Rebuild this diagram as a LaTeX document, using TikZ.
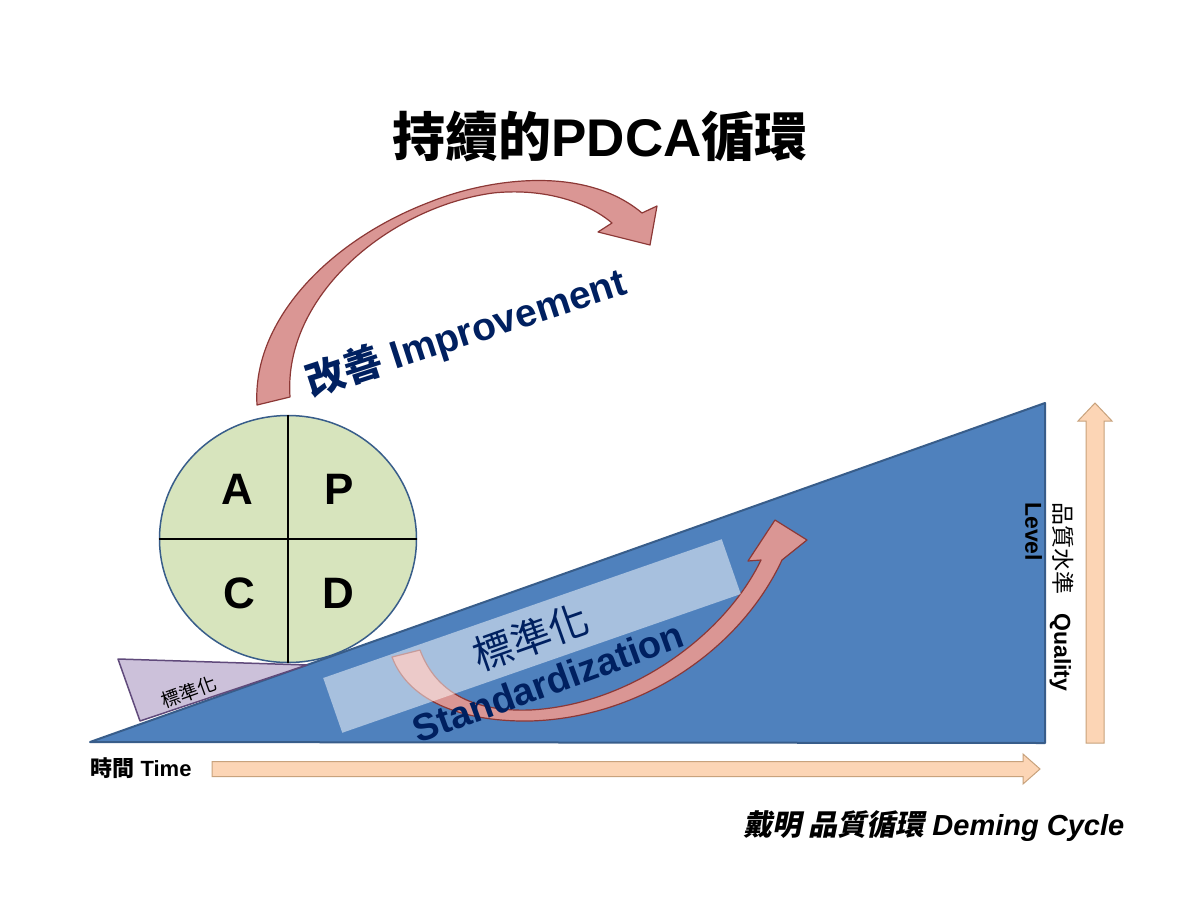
\documentclass[tikz,border=0pt]{standalone}
\usepackage{fontspec}
\setmainfont{Liberation Sans}
\newfontfamily\cjk{Noto Sans CJK TC}
\newfontfamily\cjkit[FakeSlant=0.2]{Noto Sans CJK TC}
\usetikzlibrary{shapes.geometric}
\newcommand{\setfs}[1]{\fontsize{#1}{#1}\selectfont}
\definecolor{triF}{HTML}{4F81BD}
\definecolor{triB}{HTML}{385D8A}
\definecolor{navy}{RGB}{0,32,96}
\definecolor{circF}{HTML}{D7E4BD}
\definecolor{wedF}{HTML}{CCC1DA}
\definecolor{wedB}{HTML}{604A7B}
\definecolor{peachF}{HTML}{FCD5B5}
\definecolor{peachB}{HTML}{C8A27C}
\definecolor{arrF}{HTML}{DA9694}
\definecolor{arrB}{HTML}{8C3836}
\tikzset{
  arrowst/.style={fill=arrF, draw=arrB, line width=1.2pt, line join=round},
  peach/.style={fill=peachF, draw=peachB, line width=1pt},
  letter/.style={font=\setfs{44}\bfseries, inner sep=0pt},
}
\begin{document}
\begin{tikzpicture}[x=1pt,y=-1pt]
\useasboundingbox[fill=white] (0,0) rectangle (1200,900);
% slope
\filldraw[fill=triF, draw=triB, line width=2pt, line join=round] (90,742) -- (1045,403) -- (1045,743) -- cycle;
% small wedge
\filldraw[fill=wedF, draw=wedB, line width=1.5pt, line join=round] (118,659) -- (307,665) -- (140,721) -- cycle;
\node[rotate=20, inner sep=0pt] (wedtxt) at (189,692) {\setfs{19}\cjk 標準化};
% PDCA circle
\node[ellipse, draw=triB, fill=circF, line width=1.5pt, minimum width=257pt, minimum height=247pt, inner sep=0pt] (pdca) at (288,539) {};
\draw[line width=1.5pt] (pdca.north) -- (pdca.south);
\draw[line width=1.5pt] (pdca.west) -- (pdca.east);
\node[letter] (A) at (237,489) {A};
\node[letter] (P) at (339,489) {P};
\node[letter] (C) at (239,593) {C};
\node[letter] (D) at (338,593) {D};
% lower arrow
\filldraw[arrowst] (392,657) .. controls (410,705) and (470,722) .. (530,721) .. controls (640,718) and (740,650) .. (782,560) -- (807,540) -- (775,520) -- (748,561) -- (761,560) .. controls (725,635) and (630,705) .. (530,710) .. controls (470,712) and (435,690) .. (420,650) -- cycle;
% light band
\node[rectangle, fill=white, fill opacity=0.5, minimum width=422pt, minimum height=58pt, rotate=19.2, inner sep=0pt] (band) at (532,636) {};
\node[rotate=19.5, text=navy, inner sep=0pt] (stdcjk) at (531,637) {\setfs{40}\cjk 標準化};
\node[rotate=20, text=navy, inner sep=0pt] (stden) at (548,682) {\setfs{38}\bfseries Standardization};
% upper arrow
\filldraw[arrowst] (257,405) .. controls (252,320) and (330,240) .. (430,202) .. controls (490,178) and (585,165) .. (642,213) -- (657,206) -- (650,245) -- (598,232) -- (612,223) .. controls (585,200) and (540,188) .. (493,193) .. controls (390,207) and (283,295) .. (290,397) -- cycle;
\node[rotate=18, text=navy, inner sep=0pt] (impr) at (466,333) {\setfs{39}\bfseries{\cjk 改善} Improvement};
% title
\node[inner sep=0pt] (title) at (600,137) {\setfs{53}\bfseries{\cjk 持續的}PDCA{\cjk 循環}};
% time axis
\filldraw[peach] (212,761.5) -- (1023,761.5) -- (1023,754) -- (1040,769) -- (1023,784) -- (1023,776.5) -- (212,776.5) -- cycle;
\node[inner sep=0pt] (time) at (141,768) {\setfs{22}\bfseries{\cjk 時間} Time};
% quality axis
\filldraw[peach] (1086,743) -- (1086,421) -- (1078,421) -- (1095,403) -- (1112,421) -- (1104,421) -- (1104,743) -- cycle;
\node[rotate=-90, anchor=north west, align=left, inner sep=0pt, font=\fontsize{23}{29}\selectfont] (qual) at (1074,502) {{\cjk 品質水準}\ \ \ \textbf{Quality}\\\textbf{Level}};
% caption
\node[inner sep=0pt] (deming) at (934,826) {\setfs{29}{\bfseries\cjkit 戴明 品質循環} \bfseries\itshape Deming Cycle};
\end{tikzpicture}
\end{document}
